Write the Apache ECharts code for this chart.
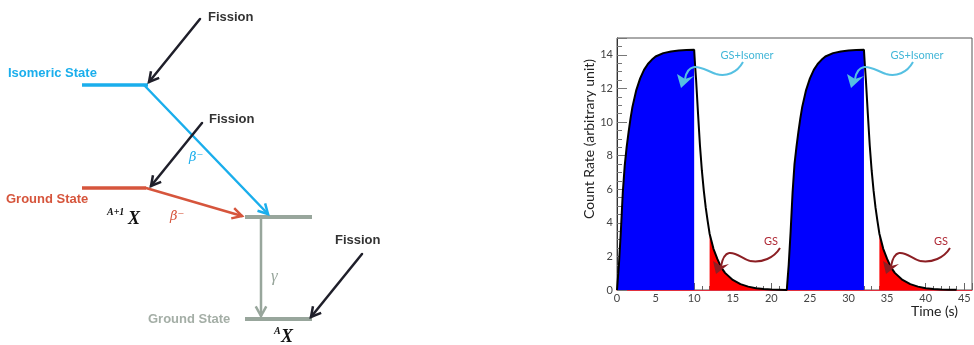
<!DOCTYPE html>
<html>
<head>
<meta charset="utf-8">
<script src="https://cdn.jsdelivr.net/npm/echarts@6/dist/echarts.min.js"></script>
<style>
html,body{margin:0;padding:0;background:#fff;}
#chart{width:974px;height:345px;}
</style>
</head>
<body>
<div id="chart"></div>
<script>
// ---------- data ----------
const riseTime1  = [0, 0.1, 0.25, 0.5, 0.75, 1, 1.25, 1.5, 1.75, 2, 2.5, 3, 3.5, 4, 4.5, 5, 6, 7, 8, 9, 10];
const riseCount1 = [0, 0.6, 1.5, 3.5, 5.8, 7.4, 8.5, 9.4, 10.2, 10.9, 11.9, 12.6, 13.1, 13.45, 13.7, 13.9, 14.1, 14.2, 14.25, 14.28, 14.3];
const decayTime1  = [10, 10.1, 10.25, 10.5, 10.75, 11, 11.25, 11.5, 11.75, 12, 12.5, 13, 13.5, 14, 15, 16, 17, 18, 19, 20, 21, 22];
const decayCount1 = [14.3, 13.5, 12.5, 10.5, 8.6, 7.1, 5.9, 4.9, 4.1, 3.35, 2.45, 1.85, 1.35, 1.02, 0.6, 0.35, 0.2, 0.11, 0.06, 0.03, 0.015, 0];
const riseTime2  = [22, 22.1, 22.25, 22.5, 22.75, 23, 23.25, 23.5, 23.75, 24, 24.5, 25, 25.5, 26, 26.5, 27, 28, 29, 30, 31, 32];
const riseCount2 = [0, 0.6, 1.5, 3.5, 5.8, 7.5, 8.5, 9.4, 10.2, 10.9, 11.9, 12.6, 13.1, 13.45, 13.7, 13.9, 14.1, 14.2, 14.25, 14.28, 14.3];
const decayTime2  = [32, 32.1, 32.25, 32.5, 32.75, 33, 33.25, 33.5, 33.75, 34, 34.5, 35, 35.5, 36, 37, 38, 39, 40, 41, 42, 43, 44];
const decayCount2 = [14.3, 13.5, 12.5, 10.5, 8.6, 7.1, 5.9, 4.9, 4.1, 3.35, 2.45, 1.85, 1.35, 1.02, 0.6, 0.35, 0.2, 0.11, 0.06, 0.03, 0.015, 0.01];
const redFillStart = [12, 34];          // GS-only counting windows start
const xTickLabels = [0, 5, 10, 15, 20, 25, 30, 35, 40, 45];
const yTickLabels = [0, 2, 4, 6, 8, 10, 12, 14];

function pairs(ts, vs) { return ts.map((t, i) => [t, vs[i]]); }
const fullCurve = pairs(riseTime1, riseCount1)
  .concat(pairs(decayTime1, decayCount1).slice(1))
  .concat(pairs(riseTime2, riseCount2).slice(1))
  .concat(pairs(decayTime2, decayCount2).slice(1));
const blue1 = pairs(riseTime1, riseCount1);
const blue2 = pairs(riseTime2, riseCount2);
const red1 = pairs(decayTime1, decayCount1).filter(p => p[0] >= redFillStart[0]);
const red2 = pairs(decayTime2, decayCount2).filter(p => p[0] >= redFillStart[1]);

// ---------- left level diagram (graphic) ----------
const CYAN = '#1aaeec', RED = '#d6553c', GRAY = '#98a69c', DARK = '#1f1f2a';
function chevron(x1, y1, x2, y2, len, ang) {
  const a = Math.atan2(y2 - y1, x2 - x1);
  return [[x2 - len * Math.cos(a - ang), y2 - len * Math.sin(a - ang)], [x2, y2],
          [x2 - len * Math.cos(a + ang), y2 - len * Math.sin(a + ang)]];
}
function arrow(x1, y1, x2, y2, color, w, len) {
  return [
    {type: 'line', shape: {x1, y1, x2, y2}, style: {stroke: color, lineWidth: w, lineCap: 'round'}, z: 10},
    {type: 'polyline', shape: {points: chevron(x1, y1, x2, y2, len, 0.5)}, style: {stroke: color, lineWidth: w, fill: null, lineJoin: 'miter'}, z: 10}
  ];
}
function seg(x1, y1, x2, y2, color, w) {
  return {type: 'line', shape: {x1, y1, x2, y2}, style: {stroke: color, lineWidth: w}, z: 10};
}
function txt(x, y, text, color, font, align) {
  return {type: 'text', x, y, z: 11, style: {text, fill: color, font, align: align || 'left', verticalAlign: 'middle'}};
}
const BOLD = 'bold 13px "Liberation Sans", Arial, sans-serif';
const diagram = [].concat(
  [txt(208, 17, 'Fission', '#333', BOLD), txt(209, 119, 'Fission', '#333', BOLD), txt(335, 240, 'Fission', '#333', BOLD)],
  [txt(8, 73, 'Isomeric State', CYAN, BOLD), txt(6, 199, 'Ground State', RED, BOLD), txt(148, 319, 'Ground State', '#a4aea6', BOLD)],
  [seg(82, 85, 148, 85, CYAN, 3.5), seg(82, 188, 146, 188, RED, 3.5), seg(245, 217, 312, 217, GRAY, 4), seg(245, 319, 312, 319, GRAY, 4)],
  arrow(144, 85, 268, 214, CYAN, 2.5, 11),
  arrow(146, 188, 242, 216, RED, 2.5, 11),
  arrow(261, 219, 261, 316, GRAY, 2.5, 11),
  arrow(200, 19, 149, 82, DARK, 2.5, 11),
  arrow(202, 123, 151, 186, DARK, 2.5, 11),
  arrow(362, 254, 311, 317, DARK, 2.5, 11),
  [txt(189, 158, 'β⁻', CYAN, 'italic 13px "DejaVu Serif", serif'),
   txt(170, 217, 'β⁻', RED, 'italic 13px "DejaVu Serif", serif'),
   txt(271, 277, 'γ', GRAY, 'italic 17px "Liberation Serif", serif'),
   txt(107, 212, 'A+1', '#111', 'bold italic 10px "Liberation Serif", serif'),
   txt(128, 219, 'X', '#111', 'bold italic 18px "Liberation Serif", serif'),
   txt(274, 331, 'A', '#111', 'bold italic 10px "Liberation Serif", serif'),
   txt(281, 337, 'X', '#111', 'bold italic 18px "Liberation Serif", serif')]
);

// ---------- curvy annotation arrows on the chart ----------
const LBLUE = '#55c0e2', DRED = '#8c1f24';
// each wavy arrow = list of cubic segments [x1,y1,cx1,cy1,cx2,cy2,x2,y2]
const isoSegs = [[743, 62, 737, 73, 726, 77, 716, 74], [716, 74, 707, 71, 701, 66, 694, 67], [694, 67, 689, 68, 686, 73, 685, 79]];
const isoHead = [[681, 88], [677, 74], [685, 79], [694, 76]];
const gsSegs = [[780, 248, 774, 258, 762, 263, 750, 261], [750, 261, 742, 259, 737, 252, 729, 253], [729, 253, 724, 254, 722, 261, 721, 266]];
const gsHead = [[716, 274], [713, 261], [721, 266], [729, 264]];
function wavyArrow(dx, segs, head, color) {
  const out = segs.map(s => ({type: 'bezierCurve', x: dx, z: 20,
    shape: {x1: s[0], y1: s[1], cpx1: s[2], cpy1: s[3], cpx2: s[4], cpy2: s[5], x2: s[6], y2: s[7]},
    style: {stroke: color, lineWidth: 2, fill: null}}));
  out.push({type: 'polygon', x: dx, z: 20, shape: {points: head}, style: {fill: color}});
  return out;
}
const SHIFT = 170;
const annotations = [].concat(
  wavyArrow(0, isoSegs, isoHead, LBLUE), wavyArrow(SHIFT, isoSegs, isoHead, LBLUE),
  wavyArrow(0, gsSegs, gsHead, DRED), wavyArrow(SHIFT, gsSegs, gsHead, DRED),
  [txt(747, 55, 'GS+Isomer', '#43b7d8', '11px Lato, sans-serif', 'center'),
   txt(747 + SHIFT, 55, 'GS+Isomer', '#43b7d8', '11px Lato, sans-serif', 'center'),
   txt(771, 241, 'GS', '#b02a36', '11px Lato, sans-serif', 'center'),
   txt(771 + SHIFT, 241, 'GS', '#b02a36', '11px Lato, sans-serif', 'center'),
   txt(958, 311, 'Time (s)', '#222', '14px Lato, sans-serif', 'right')]
);

const chart = echarts.init(document.getElementById('chart'), null, {renderer: 'canvas'});
function areaSeries(data, color) {
  return {type: 'line', data, showSymbol: false, symbol: 'none', lineStyle: {width: 0},
          areaStyle: {color, opacity: 1}, z: 2, animation: false, silent: true};
}
chart.setOption({
  animation: false,
  grid: {left: 617, right: 2, top: 38, bottom: 55, show: true, borderColor: '#555', borderWidth: 1,
         backgroundColor: 'transparent', outerBoundsMode: 'none'},
  xAxis: {
    type: 'value', min: 0, max: 46, interval: 5,
    axisLine: {lineStyle: {color: '#e0303e', width: 1}},
    axisTick: {inside: true, length: 7, lineStyle: {color: '#666'}},
    minorTick: {show: true, splitNumber: 5, length: 4, lineStyle: {color: '#666'}},
    axisLabel: {formatter: v => xTickLabels.includes(v) ? String(v) : '', color: '#444', fontSize: 11, fontFamily: 'Lato', margin: 3},
    splitLine: {show: false}, minorSplitLine: {show: false}
  },
  yAxis: {
    type: 'value', min: 0, max: 15, interval: 2,
    name: 'Count Rate (arbitrary unit)', nameLocation: 'middle', nameGap: 21, nameRotate: 90,
    nameTextStyle: {fontFamily: 'Lato', fontSize: 14, color: '#222', padding: [0, 0, 0, 50]},
    axisLine: {show: true, lineStyle: {color: '#333', width: 1}},
    axisTick: {inside: true, length: 10, lineStyle: {color: '#777'}},
    minorTick: {show: true, splitNumber: 4, length: 5, lineStyle: {color: '#777'}},
    axisLabel: {formatter: v => yTickLabels.includes(v) ? String(v) : '', color: '#444', fontSize: 11, fontFamily: 'Lato', margin: 4},
    splitLine: {show: false}, minorSplitLine: {show: false}
  },
  series: [
    areaSeries(blue1, '#0000ff'),
    areaSeries(blue2, '#0000ff'),
    areaSeries(red1, '#ff0000'),
    areaSeries(red2, '#ff0000'),
    {type: 'line', data: fullCurve, showSymbol: false, symbol: 'none',
     lineStyle: {color: '#000', width: 2}, z: 5, animation: false, silent: true}
  ],
  graphic: diagram.concat(annotations)
});
</script>
</body>
</html>
